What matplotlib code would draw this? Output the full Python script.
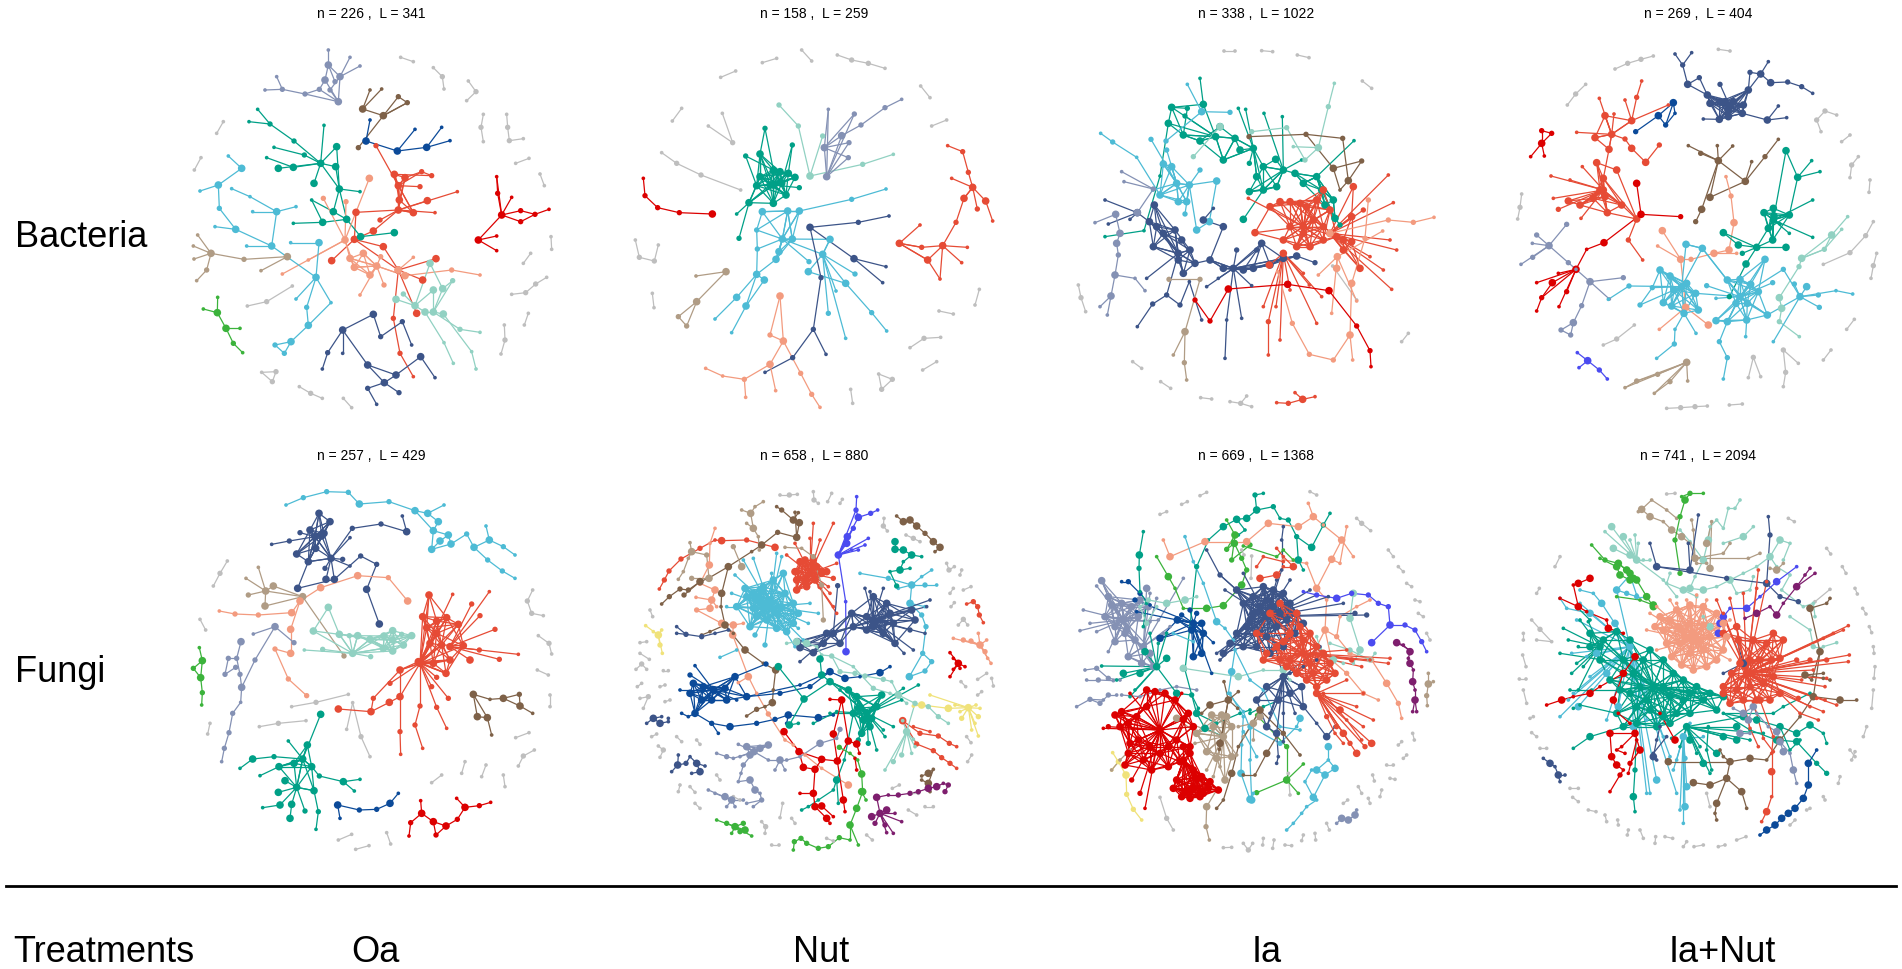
import matplotlib
matplotlib.use("Agg")
import matplotlib.pyplot as plt
from matplotlib.collections import LineCollection
from matplotlib.lines import Line2D

plt.rcParams["font.family"] = ["Liberation Sans", "DejaVu Sans"]

W, H = 1902, 969

palette = {
    "gy": "#BEBEBE", "lv": "#8491B4", "br": "#7E6148", "db": "#0B4A99",
    "ds": "#3C5488", "tl": "#00A087", "ro": "#E64B35", "sa": "#F39B7F",
    "mn": "#91D1C2", "rd": "#DC0000", "sk": "#4DBBD5", "tn": "#B09C85",
    "gr": "#3BB33B", "bb": "#4B4BF0", "pu": "#7E1E6E", "ye": "#F0E27A",
}
node_area = {1: 7, 2: 15, 3: 30}
MESH_REACH = 100

row_labels = ["Bacteria", "Fungi"]
treatments = ["Oa", "Nut", "Ia", "Ia+Nut"]
titles = [
    "n = 226 ,  L = 341", "n = 158 ,  L = 259", "n = 338 ,  L = 1022", "n = 269 ,  L = 404",
    "n = 257 ,  L = 429", "n = 658 ,  L = 880", "n = 669 ,  L = 1368", "n = 741 ,  L = 2094",
]

# node coordinates are layout positions (0..1230 panel units)
# group = (colour, mode, nodes): 's' star from first node, 'p' path,
# 'm' star plus links among nearby big (size 3) nodes; optional 3rd value = node size class

grey_b_oa = [
    [(692, 112), (730, 125)], [(790, 143), (817, 170), (822, 207)], [(895, 183), (918, 215), (890, 242)],
    [(940, 283), (933, 322), (940, 365)], [(1010, 283), (1013, 322), (1018, 362), (1060, 356)],
    [(1037, 430), (1077, 415)], [(1110, 462), (1123, 497)], [(1143, 650), (1145, 688)], [(1082, 700), (1060, 730)],
    [(1130, 772), (1097, 792), (1067, 818), (1025, 823)], [(1075, 880), (1063, 915)],
    [(1003, 915), (1005, 960), (993, 1002)], [(160, 305), (140, 340)], [(93, 413), (73, 450)],
    [(367, 798), (290, 845), (232, 858)], [(275, 1057), (318, 1055), (307, 1085), (275, 1057)],
    [(388, 1100), (422, 1120), (457, 1135)], [(520, 1135), (545, 1163)],
]
b_oa = [
    ("lv", "s", [(505, 245), (465, 180, 3), (480, 210, 2), (448, 208, 2), (510, 170, 3)]),
    ("lv", "s", [(475, 135), (475, 90), (465, 180, 3), (510, 170, 3), (495, 185, 2)]),
    ("lv", "s", [(510, 170), (540, 112), (570, 138), (480, 210, 2)]),
    ("lv", "p", [(285, 210), (337, 208, 2), (405, 222, 2), (448, 208, 2), (465, 180, 3)]),
    ("lv", "p", [(320, 170), (337, 208, 2)]),
    ("lv", "p", [(405, 222, 2), (505, 245, 3)]),
    ("br", "s", [(640, 287), (578, 267, 3), (685, 230, 2), (712, 248, 2), (565, 383, 2)]),
    ("br", "p", [(600, 210), (578, 267, 3), (635, 207)]),
    ("br", "p", [(685, 230, 2), (712, 248, 2), (640, 287, 3)]),
    ("db", "s", [(588, 363), (600, 300), (682, 393, 3)]),
    ("db", "s", [(682, 393), (735, 328), (770, 382, 3)]),
    ("db", "s", [(770, 382), (815, 322), (840, 362)]),
    ("ro", "m", [(685, 497), (618, 377, 2), (673, 463, 3), (705, 473, 3), (755, 455, 2), (688, 540, 3),
                 (730, 578, 3), (685, 570, 3), (750, 500, 2)]),
    ("ro", "s", [(685, 570), (558, 577, 3), (630, 600, 2), (610, 633, 3), (772, 542, 3), (795, 578), (862, 515),
                 (730, 578, 3)]),
    ("ro", "s", [(553, 658), (558, 577, 3), (610, 633, 3), (485, 722, 3), (640, 680, 3), (685, 750, 3)]),
    ("ro", "s", [(685, 750), (640, 680, 3), (758, 780, 3), (798, 716, 3), (740, 880, 3), (670, 895, 2)]),
    ("ro", "p", [(670, 895, 2), (690, 1000, 2), (730, 1070)]),
    ("ro", "p", [(673, 463, 3), (785, 467, 2), (755, 455, 2), (705, 473, 3)]),
    ("tl", "s", [(452, 430), (403, 405, 2), (372, 363, 2), (370, 442, 3), (325, 445, 3), (497, 440, 3),
                 (500, 380, 3), (432, 490, 3), (508, 507, 3), (462, 316)]),
    ("tl", "p", [(263, 268), (300, 312, 2), (372, 363, 2)]),
    ("tl", "p", [(237, 305), (300, 312, 2)]),
    ("tl", "s", [(508, 507), (500, 380, 3), (490, 575, 3), (530, 598, 3), (570, 515), (497, 440, 3)]),
    ("tl", "s", [(530, 598), (458, 607, 3), (572, 650, 3), (490, 575, 3)]),
    ("tl", "p", [(370, 610), (458, 607, 3), (425, 540), (490, 575, 3)]),
    ("tl", "p", [(572, 650, 3), (673, 638, 3)]),
    ("tl", "p", [(312, 382), (403, 405, 2)]),
    ("tl", "p", [(290, 413), (370, 442, 3)]),
    ("sa", "s", [(525, 660), (598, 475, 3), (460, 535, 2), (528, 545, 2), (540, 715, 3), (415, 720), (337, 762),
                 (553, 742, 3)]),
    ("sa", "m", [(620, 738), (540, 715, 3), (553, 742, 3), (580, 700, 3), (632, 710, 2), (600, 765, 3),
                 (642, 795, 2), (705, 767, 3), (570, 825)]),
    ("sa", "p", [(705, 767, 3), (845, 750, 2), (930, 765)]),
    ("sa", "p", [(730, 712), (685, 750, 3)]),
    ("mn", "s", [(735, 857), (678, 838, 3), (700, 822, 2), (765, 876, 3), (790, 810, 3), (780, 730, 3)]),
    ("mn", "s", [(790, 876), (765, 876, 3), (820, 882, 3), (818, 806, 3), (790, 810, 3), (848, 782, 2),
                 (870, 928, 2)]),
    ("mn", "p", [(780, 730, 3), (818, 806, 3), (848, 782, 2)]),
    ("mn", "p", [(870, 928, 2), (930, 937)]),
    ("mn", "p", [(765, 876, 3), (822, 968), (850, 1030)]),
    ("mn", "p", [(820, 882, 3), (905, 995), (918, 1047)]),
    ("sk", "p", [(175, 408), (215, 445, 3), (145, 495, 3), (148, 565, 2), (197, 628, 3), (305, 678, 3),
                 (438, 772, 3)]),
    ("sk", "p", [(90, 513), (145, 495, 3)]),
    ("sk", "s", [(320, 575), (305, 678, 3), (378, 560), (248, 575), (240, 530)]),
    ("sk", "p", [(185, 506), (240, 530)]),
    ("sk", "p", [(135, 620), (197, 628, 3)]),
    ("sk", "p", [(230, 678), (305, 678, 3)]),
    ("sk", "s", [(438, 772), (447, 668, 3), (378, 837), (410, 862, 2), (483, 848)]),
    ("sk", "p", [(362, 668), (447, 668, 3)]),
    ("sk", "p", [(410, 862, 2), (415, 916, 3), (363, 965, 3), (315, 975, 2), (343, 1000, 2), (363, 965, 3)]),
    ("sk", "p", [(415, 916, 3), (483, 848)]),
    ("tn", "s", [(123, 700), (83, 645), (70, 678), (72, 717), (110, 750, 2), (222, 718, 2)]),
    ("tn", "p", [(110, 750, 2), (80, 782)]),
    ("tn", "s", [(352, 710), (222, 718, 2), (273, 752)]),
    ("rd", "s", [(995, 585), (980, 470), (983, 520, 2), (1025, 532), (1052, 572, 2), (1052, 605, 2),
                 (925, 660, 3)]),
    ("rd", "p", [(983, 520, 2), (980, 470)]),
    ("rd", "p", [(1052, 572, 2), (1095, 583, 2), (1137, 568)]),
    ("rd", "p", [(1052, 605, 2), (1095, 583, 2)]),
    ("rd", "s", [(925, 660), (980, 648), (980, 692)]),
    ("gr", "p", [(100, 867), (142, 878, 3), (143, 832)]),
    ("gr", "p", [(142, 878, 3), (168, 925, 3), (190, 970, 2), (218, 998)]),
    ("gr", "p", [(168, 925, 3), (210, 925)]),
    ("ds", "s", [(518, 930), (473, 998, 2), (518, 1000), (610, 883, 3), (593, 1035, 3)]),
    ("ds", "p", [(473, 998, 2), (457, 1047)]),
    ("ds", "p", [(610, 883, 3), (632, 950, 2), (697, 905, 2), (725, 975)]),
    ("ds", "s", [(643, 1088), (593, 1035, 3), (678, 1065, 3), (687, 1118, 2), (593, 1105, 2)]),
    ("ds", "p", [(593, 1105, 2), (620, 1153)]),
    ("ds", "p", [(678, 1065, 3), (752, 1010, 3), (795, 1073)]),
    ("ds", "p", [(593, 1035, 3), (678, 1065, 3)]),
]

grey_b_nut = [
    [(487, 128), (530, 115)], [(362, 172), (407, 153)], [(605, 90), (635, 123)],
    [(712, 105), (755, 120), (805, 130), (855, 145)], [(962, 198), (990, 233)], [(995, 318), (1040, 300)],
    [(217, 303), (245, 265)], [(325, 318), (398, 368), (367, 280)],
    [(185, 398), (230, 430), (303, 465), (422, 510)], [(106, 660), (118, 712), (163, 723), (175, 675)],
    [(157, 820), (162, 863)], [(1138, 808), (1125, 855)], [(1017, 873), (1060, 882)],
    [(930, 983), (972, 955), (1022, 952)], [(968, 1050), (1010, 1025)],
    [(836, 1062), (877, 1078), (845, 1108), (836, 1062)], [(752, 1108), (758, 1150)],
]
b_nut = [
    ("rd", "p", [(130, 475), (135, 527, 2), (173, 563, 2), (238, 578, 2), (337, 582, 3)]),
    ("tl", "m", [(520, 495), (480, 470, 3), (470, 497, 3), (510, 495, 3), (545, 490, 3), (565, 460, 3),
                 (585, 472, 3), (598, 503, 2), (558, 525, 3), (520, 550, 3), (540, 455, 3), (520, 450, 3),
                 (447, 548, 3), (480, 402, 3)]),
    ("tl", "p", [(495, 325, 2), (480, 402, 3), (480, 470, 3)]),
    ("tl", "p", [(495, 325, 2), (520, 450, 3)]),
    ("tl", "p", [(437, 408, 2), (470, 497, 3)]),
    ("tl", "p", [(437, 408, 2), (520, 450, 3)]),
    ("tl", "p", [(577, 375, 2), (565, 460, 3)]),
    ("tl", "p", [(577, 375, 2), (545, 490, 3)]),
    ("tl", "p", [(447, 548, 3), (410, 582)]),
    ("tl", "p", [(447, 548, 3), (417, 655, 2)]),
    ("mn", "p", [(537, 255, 2), (595, 318, 2), (630, 468, 3)]),
    ("mn", "p", [(630, 468, 3), (668, 348, 2)]),
    ("mn", "p", [(630, 468, 3), (788, 433, 2), (880, 403)]),
    ("lv", "s", [(680, 470), (673, 383, 3), (725, 347, 3), (747, 368, 2), (745, 413, 2), (763, 282, 2), (685, 268)]),
    ("lv", "s", [(673, 383), (725, 347, 3), (685, 268), (763, 282, 2), (747, 368, 2), (745, 413, 2)]),
    ("lv", "p", [(725, 347, 3), (783, 315, 2), (855, 263, 2), (905, 238)]),
    ("sk", "m", [(547, 657), (487, 575, 3), (563, 573, 3), (598, 573, 3), (470, 630, 2), (472, 687, 2),
                 (537, 695, 3), (528, 718, 3), (577, 657, 3), (690, 658, 3), (668, 703, 3), (627, 725, 2)]),
    ("sk", "s", [(563, 573), (487, 575, 3), (598, 573, 3), (577, 657, 3), (470, 630, 2)]),
    ("sk", "p", [(598, 573, 3), (755, 538, 2), (858, 507)]),
    ("sk", "s", [(470, 763), (472, 687, 2), (493, 780, 3), (410, 832, 3), (438, 858, 3), (528, 718, 3)]),
    ("sk", "p", [(410, 832, 3), (345, 897)]),
    ("sk", "p", [(438, 858, 3), (395, 938)]),
    ("sk", "p", [(493, 780, 3), (438, 858, 3)]),
    ("sk", "s", [(668, 703), (737, 790, 3), (765, 762, 2), (690, 658, 3), (625, 755, 3), (708, 813),
                 (685, 880, 2), (737, 955)]),
    ("sk", "p", [(625, 755, 3), (737, 790, 3), (815, 878, 2), (860, 933)]),
    ("sk", "p", [(487, 575, 3), (470, 630, 2), (472, 687, 2)]),
    ("ds", "s", [(630, 622), (775, 607, 2), (762, 716, 3), (663, 773, 2)]),
    ("ds", "p", [(775, 607, 2), (867, 588)]),
    ("ds", "s", [(762, 716), (858, 740), (848, 788)]),
    ("ds", "p", [(663, 773, 2), (640, 928, 2), (578, 1013, 2), (495, 1057)]),
    ("ds", "p", [(640, 928, 2), (678, 1003)]),
    ("ro", "p", [(1043, 377), (1088, 395, 2), (1105, 457, 2), (1118, 502, 3), (1092, 535, 3), (1068, 607, 2),
                 (1028, 677, 3), (983, 720, 3), (898, 670, 3), (965, 682, 2), (1028, 677, 3)]),
    ("ro", "s", [(1118, 502), (1055, 475), (1157, 543, 3), (1132, 567, 2), (1092, 535, 3)]),
    ("ro", "p", [(1157, 543, 3), (1178, 603)]),
    ("ro", "s", [(898, 670), (960, 615), (983, 720, 3), (965, 682, 2)]),
    ("ro", "s", [(1028, 677), (1102, 682), (1085, 728), (1020, 777)]),
    ("ro", "p", [(983, 720, 3), (1020, 777)]),
    ("tn", "p", [(288, 768), (378, 755, 3), (290, 845, 3), (235, 890, 2), (260, 918, 2), (290, 845, 3)]),
    ("sa", "p", [(540, 828, 3), (510, 945, 2), (550, 963, 3), (540, 828, 3)]),
    ("sa", "p", [(550, 963, 3), (510, 1033, 3), (433, 1078, 2), (368, 1068), (317, 1045)]),
    ("sa", "p", [(433, 1078, 2), (437, 1132)]),
    ("sa", "p", [(510, 1033, 3), (527, 1112)]),
    ("sa", "p", [(550, 963, 3), (602, 1060, 2), (635, 1123, 2), (660, 1162)]),
]

grey_b_ia = [
    [(522, 93), (555, 93)], [(635, 92), (668, 95)], [(742, 105), (777, 113)], [(937, 183), (965, 205)],
    [(1055, 965), (1075, 940)], [(85, 795), (93, 833), (107, 875)], [(248, 1025), (275, 1045)],
    [(332, 1085), (362, 1105)], [(452, 1133), (485, 1137)], [(540, 1145), (572, 1150), (590, 1128)],
    [(572, 1150), (605, 1160)], [(848, 738), (920, 840)],
]
b_ia = [
    ("ro", "p", [(680, 1148), (715, 1150, 2), (758, 1138, 3), (795, 1130)]),
    ("ro", "p", [(735, 1118), (758, 1138, 3)]),
    ("tl", "p", [(365, 262, 3), (412, 265, 2), (400, 345, 3), (450, 363, 3), (510, 320, 3), (555, 355, 3),
                 (570, 390, 3), (610, 385, 3), (640, 440, 3), (677, 418, 3), (700, 450, 3), (735, 460, 3),
                 (760, 490, 3), (800, 470, 3), (815, 510, 3), (850, 540, 3), (855, 595, 3), (870, 615, 2)]),
    ("tl", "m", [(497, 350, 3), (365, 262, 3), (405, 288, 2), (355, 310, 3), (460, 253, 3), (450, 363, 3),
                 (520, 420, 3), (555, 355, 3), (400, 345, 3)]),
    ("tl", "m", [(610, 385, 3), (520, 420, 3), (598, 430, 2), (620, 470, 3), (640, 510, 3), (555, 355, 3),
                 (565, 265), (587, 268)]),
    ("tl", "m", [(700, 450, 3), (642, 280), (697, 290), (680, 500, 3), (640, 510, 3), (598, 515, 3),
                 (640, 440, 3), (755, 420)]),
    ("tl", "m", [(800, 470, 3), (912, 362), (850, 540, 3), (825, 555, 3), (760, 490, 3), (735, 460, 3),
                 (815, 510, 3), (855, 595, 3)]),
    ("tl", "s", [(640, 510, 3), (580, 598, 3), (598, 515, 3), (680, 500, 3)]),
    ("tl", "p", [(460, 253, 3), (450, 175)]),
    ("tl", "p", [(165, 650), (282, 632), (330, 468), (355, 310, 3)]),
    ("sk", "m", [(380, 490, 3), (340, 432, 3), (365, 440, 3), (330, 525, 3), (385, 545, 3), (410, 545, 3),
                 (418, 495, 3), (350, 390, 2), (303, 358, 2), (308, 510)]),
    ("sk", "s", [(418, 495, 3), (450, 450, 2), (500, 483, 3), (410, 545, 3), (405, 582, 2), (440, 630, 3)]),
    ("sk", "p", [(152, 340), (188, 366, 2), (260, 412), (330, 525, 3)]),
    ("sk", "p", [(412, 193), (455, 275, 3), (540, 277, 2)]),
    ("sk", "p", [(455, 275, 3), (348, 363, 2)]),
    ("sk", "p", [(440, 630, 3), (478, 605, 3), (500, 483, 3)]),
    ("ds", "p", [(262, 578, 3), (298, 605, 3), (340, 640, 3), (395, 660, 3), (435, 730, 3), (480, 720, 3),
                 (520, 745, 3), (550, 745, 3), (580, 750, 3), (610, 745, 3), (660, 735, 3), (700, 715, 3),
                 (740, 708, 3), (795, 728, 2)]),
    ("ds", "m", [(385, 700, 3), (313, 555, 3), (320, 620, 3), (310, 680, 3), (375, 630, 3), (420, 690, 3),
                 (385, 720, 3), (400, 760, 3), (435, 730, 3), (340, 640, 3), (298, 605, 3), (290, 775),
                 (350, 825, 2)]),
    ("ds", "m", [(550, 745, 3), (560, 690, 2), (620, 690, 2), (635, 670, 3), (505, 775), (470, 800), (530, 900),
                 (575, 895), (605, 797), (480, 720, 3), (520, 745, 3), (580, 750, 3), (610, 745, 3),
                 (660, 735, 3), (700, 715, 3), (740, 708, 3)]),
    ("ds", "p", [(530, 900), (525, 1015)]),
    ("ds", "p", [(460, 600, 3), (520, 620, 3), (480, 720, 3)]),
    ("ds", "p", [(490, 565), (460, 600, 3)]),
    ("ds", "p", [(165, 540), (262, 578, 3), (240, 598)]),
    ("ds", "p", [(175, 612), (262, 578, 3)]),
    ("ds", "p", [(308, 852, 2), (350, 825, 2), (390, 855, 2), (418, 785), (455, 900)]),
    ("ds", "p", [(262, 920), (308, 852, 2)]),
    ("lv", "p", [(135, 608), (197, 583, 3), (210, 640, 3), (200, 670, 3), (205, 705, 2), (195, 765, 3),
                 (183, 828, 3), (172, 885)]),
    ("lv", "p", [(215, 455), (310, 507, 2), (262, 578, 3)]),
    ("lv", "p", [(222, 485), (310, 507, 2)]),
    ("lv", "p", [(195, 765, 3), (255, 775), (285, 812)]),
    ("lv", "p", [(183, 828, 3), (150, 860)]),
    ("ro", "m", [(760, 620, 3), (615, 638, 3), (660, 560, 3), (690, 545, 3), (720, 545, 3), (750, 550, 3),
                 (770, 560, 3), (800, 540, 3), (820, 510, 3), (840, 570, 3), (790, 600, 3), (820, 620, 3),
                 (760, 640, 3), (720, 620, 3), (700, 660, 3), (740, 680, 3), (780, 680, 3), (820, 660, 3),
                 (860, 650, 3), (595, 535)]),
    ("ro", "m", [(840, 640, 3), (880, 660, 3), (905, 665, 3), (880, 690, 3), (905, 590, 3), (910, 500, 3),
                 (940, 570, 2), (1015, 465), (1030, 548), (1040, 690), (1020, 660), (1000, 750), (1025, 808),
                 (960, 710), (930, 745, 3)]),
    ("ro", "s", [(700, 700, 3), (658, 735, 3), (655, 905, 2), (640, 860), (678, 860), (690, 960), (720, 810),
                 (760, 760), (800, 910), (778, 795), (815, 830)]),
    ("ro", "p", [(655, 905, 2), (655, 1005)]),
    ("sa", "p", [(840, 640, 3), (1015, 600, 2), (1090, 607, 2), (1152, 592)]),
    ("sa", "p", [(955, 540, 2), (945, 655, 2), (905, 790, 3), (900, 945, 3), (850, 1020, 2), (778, 1003, 2),
                 (727, 910, 2), (683, 755)]),
    ("sa", "p", [(900, 945, 3), (908, 1020)]),
    ("sa", "s", [(862, 710, 3), (860, 745, 3), (805, 765), (845, 880), (998, 633), (920, 843)]),
    ("rd", "p", [(435, 840, 2), (480, 903, 2), (535, 807, 3), (713, 793, 3), (837, 812, 3), (920, 918, 2),
                 (960, 992, 2), (963, 1040)]),
    ("mn", "p", [(605, 335, 2), (710, 323, 2), (765, 420, 2), (805, 383, 3), (835, 260, 2), (853, 190)]),
    ("mn", "p", [(730, 380), (805, 383, 3)]),
    ("mn", "p", [(430, 410, 2), (510, 320, 3)]),
    ("br", "p", [(597, 350, 2), (768, 343, 2), (878, 355, 2), (895, 482, 3), (870, 510), (850, 445, 3),
                 (935, 423, 2), (895, 482, 3)]),
    ("br", "p", [(768, 343, 2), (850, 445, 3)]),
    ("tn", "p", [(357, 778, 2), (450, 778, 2), (405, 935, 3), (403, 1028, 2), (410, 1080)]),
    ("tn", "p", [(405, 935, 3), (370, 1005)]),
]

grey_b_ian = [
    [(375, 147), (413, 130), (453, 118), (490, 108)], [(685, 88), (720, 93)], [(232, 255), (257, 222), (287, 193)],
    [(993, 335), (980, 300), (1005, 273), (1040, 285)], [(1055, 365), (1080, 345)],
    [(1080, 473), (1085, 435), (1105, 410)], [(1140, 480), (1137, 517)], [(95, 522), (90, 562), (83, 597)],
    [(1000, 733), (1080, 698), (1127, 647), (1150, 605)], [(1160, 700), (1150, 737), (1143, 775)],
    [(1070, 928), (1093, 898)], [(1000, 1020), (1023, 990)], [(340, 975), (380, 957), (433, 915)],
    [(925, 1030), (880, 990), (887, 1057), (880, 1100)], [(775, 1073), (790, 1012), (812, 1070)],
    [(530, 1165), (572, 1163), (615, 1160), (652, 1158)], [(718, 1155), (757, 1152)],
]
b_ian = [
    ("ds", "p", [(555, 102), (578, 135, 2), (605, 98)]),
    ("ds", "p", [(578, 135, 2), (593, 193, 3), (652, 225, 3), (660, 250, 3)]),
    ("ds", "p", [(593, 193, 3), (628, 173, 2), (652, 225, 3)]),
    ("ds", "m", [(720, 260, 3), (660, 250, 3), (690, 245, 3), (705, 245, 3), (730, 245, 3), (760, 255, 3),
                 (715, 270, 3), (688, 298, 3), (715, 290, 3), (757, 280, 3), (690, 193, 2), (652, 225, 3),
                 (775, 210, 3)]),
    ("ds", "p", [(775, 210, 3), (780, 157, 2), (812, 162, 3), (835, 125)]),
    ("ds", "p", [(775, 210, 3), (812, 162, 3), (842, 188, 3), (893, 186, 2), (935, 200, 2), (968, 220)]),
    ("ds", "p", [(757, 280, 3), (832, 300, 3), (865, 258)]),
    ("ds", "p", [(832, 300, 3), (890, 293)]),
    ("ds", "p", [(640, 297), (688, 298, 3)]),
    ("db", "p", [(437, 335, 2), (505, 287, 3), (527, 315, 2), (555, 280), (550, 248, 3), (505, 287, 3)]),
    ("db", "p", [(550, 248, 3), (527, 315, 2)]),
    ("ro", "m", [(340, 510, 3), (183, 468), (240, 480), (190, 535), (205, 568, 2), (235, 543, 3), (270, 555, 3),
                 (310, 535, 3), (330, 510, 3), (345, 530, 3), (352, 578, 3), (395, 555, 3), (273, 595),
                 (320, 428, 3), (277, 440), (340, 475, 3)]),
    ("ro", "s", [(440, 597, 3), (395, 555, 3), (352, 578, 3), (415, 660, 2), (340, 475, 3), (380, 450, 3),
                 (453, 583, 2)]),
    ("ro", "p", [(415, 660, 2), (458, 720)]),
    ("ro", "m", [(365, 343, 3), (345, 287, 3), (315, 353, 3), (357, 388, 3), (405, 357, 2), (328, 235),
                 (372, 282), (260, 337), (425, 302, 3)]),
    ("ro", "p", [(425, 302, 3), (440, 232, 2), (455, 183)]),
    ("ro", "p", [(405, 240), (425, 302, 3), (535, 255)]),
    ("ro", "p", [(405, 357, 2), (425, 385, 3), (467, 427, 3), (508, 375, 2)]),
    ("ro", "p", [(357, 388, 3), (340, 475, 3)]),
    ("ro", "p", [(320, 428, 3), (380, 450, 3)]),
    ("rd", "p", [(122, 410), (155, 370, 3), (185, 340, 2), (155, 332, 2), (155, 370, 3), (163, 408)]),
    ("rd", "s", [(453, 583, 3), (440, 490, 3), (572, 590, 2), (342, 668, 3)]),
    ("rd", "p", [(342, 668, 3), (290, 688), (258, 748, 3)]),
    ("rd", "s", [(258, 748, 3), (187, 788, 3), (205, 760), (140, 788), (155, 833, 2), (230, 815, 2), (207, 860)]),
    ("rd", "p", [(187, 788, 3), (155, 833, 2), (140, 873)]),
    ("lv", "s", [(177, 677, 3), (127, 670), (140, 645, 2), (230, 613, 2), (128, 712, 2), (93, 733), (235, 728, 2)]),
    ("lv", "p", [(235, 728, 2), (258, 748), (300, 785, 3), (400, 773, 2)]),
    ("lv", "p", [(300, 785, 3), (358, 837)]),
    ("lv", "p", [(300, 785, 3), (275, 857, 2), (250, 908, 3), (213, 930, 2), (242, 945, 2), (250, 908, 3)]),
    ("bb", "p", [(262, 998), (293, 1022, 3), (328, 1050, 2), (352, 1077)]),
    ("bb", "p", [(293, 1022, 3), (267, 1043)]),
    ("tn", "s", [(590, 1027, 3), (405, 1103), (440, 1083, 2), (503, 1063, 2), (540, 1085, 2), (593, 1083),
                 (493, 1120)]),
    ("tn", "p", [(405, 1103), (440, 1083, 2), (503, 1063, 2)]),
    ("tn", "p", [(540, 1085, 2), (493, 1120)]),
    ("br", "s", [(685, 422, 3), (595, 377), (632, 400, 2), (682, 377), (728, 378), (660, 532, 3), (635, 568, 3),
                 (766, 484, 3)]),
    ("br", "p", [(635, 568, 3), (617, 605, 2)]),
    ("br", "p", [(660, 532, 3), (766, 484, 3), (825, 410, 2), (865, 358)]),
    ("br", "p", [(766, 484, 3), (785, 425)]),
    ("sa", "p", [(708, 470), (723, 528, 2), (732, 608, 3), (717, 690, 3), (672, 700, 3), (603, 718, 2),
                 (572, 718, 3), (517, 632, 3)]),
    ("sa", "p", [(572, 718, 3), (503, 678)]),
    ("sa", "p", [(572, 718, 3), (587, 862, 3), (655, 915, 3)]),
    ("sa", "p", [(587, 862, 3), (508, 928)]),
    ("sa", "p", [(672, 700, 3), (740, 700)]),
    ("tl", "p", [(888, 392, 3), (923, 472, 3), (898, 585, 3)]),
    ("tl", "p", [(965, 422), (923, 472, 3), (990, 455)]),
    ("tl", "m", [(850, 600, 3), (898, 585, 3), (852, 588, 3), (822, 578, 3), (850, 565, 3), (835, 625, 3),
                 (870, 612), (848, 660, 3), (968, 540), (968, 652), (898, 640), (888, 392, 2)]),
    ("tl", "s", [(800, 682, 3), (848, 660, 3), (888, 682, 3), (745, 675, 3), (700, 638, 3), (768, 732, 3),
                 (757, 700, 2), (835, 625, 3)]),
    ("tl", "p", [(745, 675, 3), (700, 638, 3)]),
    ("tl", "p", [(768, 732, 3), (718, 830, 2)]),
    ("mn", "p", [(1073, 590), (1025, 645, 3), (1003, 688, 2), (935, 715, 3), (927, 740, 2), (868, 833, 3),
                 (875, 865, 3), (868, 905, 2), (928, 950)]),
    ("mn", "p", [(1055, 628), (1003, 688, 2), (935, 715, 3)]),
    ("mn", "p", [(1025, 645, 3), (935, 715, 3)]),
    ("sk", "m", [(750, 830, 3), (712, 780, 3), (750, 778, 3), (782, 793, 3), (805, 815, 3), (848, 788, 2),
                 (825, 718, 3), (738, 850, 3), (772, 850, 3), (770, 900, 3), (712, 905, 3), (678, 902, 3),
                 (832, 885, 3), (650, 797, 2), (678, 835), (637, 685, 3), (617, 820, 3), (880, 748, 2)]),
    ("sk", "m", [(575, 800, 3), (588, 673, 3), (510, 750, 3), (540, 768, 3), (590, 790, 3), (552, 810, 3),
                 (487, 803, 2), (417, 798, 2), (520, 848, 3), (545, 858, 3), (582, 880, 3), (625, 870, 3),
                 (617, 820, 3), (450, 855, 2), (637, 685, 3)]),
    ("sk", "s", [(930, 830, 3), (950, 800, 3), (985, 825, 2), (988, 862, 2), (913, 792, 2), (880, 748, 2),
                 (832, 885, 3), (850, 965), (1038, 812)]),
    ("sk", "p", [(1038, 812), (1088, 822)]),
    ("sk", "p", [(417, 798, 2), (355, 838)]),
    ("sk", "p", [(582, 880, 3), (555, 928), (553, 972, 2), (500, 1015)]),
    ("sk", "p", [(582, 880, 3), (618, 940)]),
    ("sk", "p", [(712, 905, 3), (688, 965, 2), (712, 1013, 2), (700, 1077)]),
    ("sk", "p", [(770, 900, 3), (767, 950)]),
    ("sk", "p", [(588, 673, 3), (637, 685, 3), (712, 780, 3)]),
    ("sk", "p", [(510, 750, 3), (487, 803, 2), (450, 855, 2)]),
]

grey_f_oa = [
    [(130, 378), (150, 340), (172, 303)], [(90, 478), (107, 510)],
    [(1088, 390), (1072, 423), (1085, 460), (1120, 467)], [(1105, 527), (1137, 550), (1145, 582)],
    [(1102, 630), (1135, 645)], [(1140, 705), (1140, 740)], [(113, 822), (120, 790)],
    [(365, 740), (438, 727), (535, 703)], [(268, 800), (325, 790), (408, 782)], [(548, 728), (530, 808)],
    [(548, 728), (573, 830), (600, 890)], [(1037, 833), (1077, 818)], [(1045, 918), (1060, 888), (1093, 870)],
    [(785, 968), (815, 945)], [(875, 940), (885, 905)], [(935, 950), (948, 915)], [(1005, 980), (1000, 945)],
    [(505, 1140), (545, 1123)], [(557, 1168), (597, 1157)], [(650, 1118), (662, 1152)],
]
f_oa = [
    ("sk", "p", [(348, 135), (400, 113, 2), (470, 95, 2), (535, 97, 2), (568, 132, 3), (657, 125, 2),
                 (735, 152, 3), (773, 160, 3), (805, 185, 3), (790, 212, 3), (785, 268, 3), (810, 243, 3),
                 (835, 225, 3), (843, 252, 3), (890, 222, 2), (912, 262, 3), (958, 240, 3), (1000, 260, 2),
                 (1035, 285)]),
    ("sk", "p", [(958, 240, 3), (948, 198)]),
    ("sk", "p", [(773, 160, 3), (822, 135)]),
    ("sk", "p", [(912, 262, 3), (953, 300, 2), (997, 333, 2), (1035, 355)]),
    ("sk", "p", [(785, 268, 3), (843, 252, 3)]),
    ("sk", "p", [(790, 212, 3), (835, 225, 3)]),
    ("sk", "p", [(735, 152, 3), (790, 212, 3)]),
    ("ds", "m", [(435, 230, 3), (447, 160, 3), (480, 185, 3), (420, 210, 3), (390, 218, 2), (455, 228, 3),
                 (462, 220, 3), (437, 265, 3), (358, 243, 2), (380, 282, 3), (415, 305, 3), (483, 295, 3)]),
    ("ds", "p", [(305, 253), (358, 243, 2)]),
    ("ds", "s", [(483, 295, 3), (518, 298, 2), (540, 318), (465, 325, 2), (468, 358, 3), (493, 358, 3),
                 (415, 305, 3), (547, 205, 2), (540, 233)]),
    ("ds", "p", [(547, 205, 2), (633, 192, 2), (710, 215, 3), (697, 168)]),
    ("ds", "p", [(493, 358, 3), (572, 288, 2), (620, 313, 2), (590, 388, 3), (628, 492, 3)]),
    ("ds", "p", [(383, 385, 3), (493, 358, 3)]),
    ("ds", "p", [(415, 305, 3), (383, 385, 3)]),
    ("tn", "s", [(287, 393, 3), (228, 355), (235, 405, 2), (265, 322), (310, 378, 3), (285, 438, 3),
                 (398, 410, 3)]),
    ("tn", "p", [(310, 378, 3), (398, 410, 3), (522, 588, 2)]),
    ("tn", "p", [(285, 438, 3), (398, 410, 3)]),
    ("sa", "p", [(148, 453), (195, 462, 2), (265, 465, 2), (365, 458, 3), (390, 423, 3), (452, 383, 3),
                 (563, 347, 3), (655, 353, 2), (713, 423, 3)]),
    ("sa", "p", [(390, 423, 3), (362, 508, 3), (362, 580, 3), (315, 567, 2), (355, 657, 2), (410, 707, 2)]),
    ("lv", "p", [(250, 522), (315, 500, 3), (372, 548, 2)]),
    ("lv", "p", [(315, 500, 3), (255, 600, 2), (215, 682, 3), (210, 643, 2), (200, 595, 2), (175, 595, 2),
                 (165, 643, 2), (197, 622, 2)]),
    ("lv", "p", [(213, 545, 3), (200, 595, 2)]),
    ("lv", "p", [(215, 682, 3), (212, 727), (188, 760, 2), (177, 818, 2), (163, 865, 2), (155, 905)]),
    ("gr", "p", [(88, 563), (97, 602, 3), (70, 625, 2), (92, 653, 3), (97, 698, 2), (95, 735)]),
    ("gr", "p", [(97, 602, 3), (92, 653, 3)]),
    ("mn", "m", [(548, 580, 3), (430, 513, 3), (458, 568, 2), (508, 523, 3), (538, 527, 2), (563, 527, 3),
                 (600, 538, 3), (602, 590, 2), (642, 528, 3), (640, 565, 3), (668, 573, 3), (403, 570)]),
    ("mn", "p", [(430, 513, 3), (475, 442, 3), (508, 523, 3)]),
    ("mn", "m", [(668, 540, 3), (642, 528, 3), (668, 512, 3), (640, 565, 3), (668, 573, 3), (700, 555, 3),
                 (695, 523, 2), (725, 527, 3), (600, 538, 3)]),
    ("ro", "m", [(750, 610, 3), (777, 405, 3), (758, 470, 3), (770, 503, 3), (800, 483, 3), (800, 520, 3),
                 (780, 550, 3), (815, 555, 3), (745, 605, 3), (790, 610, 3), (840, 600, 3), (828, 640, 3),
                 (800, 652, 2), (690, 630, 3), (660, 670, 2), (690, 710, 3), (785, 680, 2), (835, 715, 2),
                 (750, 738, 2), (800, 742, 2), (880, 557, 3), (865, 493, 3), (830, 473, 3), (848, 403)]),
    ("ro", "s", [(840, 560, 3), (905, 432, 2), (930, 467, 2), (975, 508, 2), (928, 570, 2), (900, 600, 3),
                 (988, 598, 2), (1045, 583), (958, 395)]),
    ("ro", "p", [(690, 630, 3), (610, 715, 2), (603, 755, 3), (505, 747, 3)]),
    ("ro", "p", [(603, 755, 3), (658, 727, 3), (690, 710, 3)]),
    ("ro", "p", [(750, 738, 2), (735, 795, 2), (758, 865)]),
    ("ro", "p", [(690, 710, 3), (690, 815, 2), (692, 883)]),
    ("ro", "p", [(800, 742, 2), (830, 805)]),
    ("br", "p", [(910, 703, 3), (960, 718), (1000, 715, 3), (1048, 703, 2), (1050, 738, 3), (1088, 760)]),
    ("br", "p", [(910, 703, 3), (922, 770, 3), (952, 773, 3), (965, 825)]),
    ("br", "p", [(910, 703, 3), (952, 773, 3)]),
    ("br", "p", [(1000, 715, 3), (1050, 738, 3)]),
    ("tl", "m", [(398, 897, 3), (452, 763, 3), (412, 855, 3), (355, 843), (425, 920, 3), (372, 910, 3),
                 (312, 890, 2), (327, 920, 3), (380, 982, 3), (432, 992, 3)]),
    ("tl", "p", [(425, 920, 3), (448, 948, 2), (520, 965, 3), (570, 958)]),
    ("tl", "p", [(520, 965, 3), (553, 993)]),
    ("tl", "p", [(210, 925), (248, 897, 3), (312, 890, 2)]),
    ("tl", "p", [(270, 947), (327, 920, 3)]),
    ("tl", "s", [(380, 982, 3), (345, 962, 3), (325, 997, 3), (330, 1035, 3), (365, 1033, 3), (405, 1053, 2),
                 (432, 992, 3)]),
    ("tl", "p", [(330, 1035, 3), (278, 1043)]),
    ("tl", "p", [(365, 1033, 3), (360, 1075, 3)]),
    ("tl", "p", [(432, 992, 3), (445, 1055, 2), (438, 1108)]),
    ("db", "p", [(510, 1075), (503, 1035, 3), (568, 1050, 2), (620, 1048, 2), (660, 1030, 3), (685, 1000)]),
    ("rd", "p", [(717, 1128), (722, 1088, 2), (755, 1060, 3), (752, 1022)]),
    ("rd", "p", [(755, 1060, 3), (790, 1085, 3), (798, 1125, 2), (828, 1098, 3), (862, 1078, 2), (885, 1042, 3),
                 (860, 1015)]),
    ("rd", "p", [(790, 1085, 3), (828, 1098, 3)]),
    ("rd", "p", [(885, 1042, 3), (928, 1037, 2), (962, 1027)]),
]

grey_f_nut = [
    [(540, 105), (568, 105), (592, 103)], [(640, 95), (642, 120), (655, 130)], [(683, 125), (695, 100)],
    [(720, 130), (727, 118)], [(852, 175), (850, 198), (862, 213)], [(918, 225), (940, 235), (960, 245)],
    [(1040, 310), (1047, 330), (1063, 320)], [(1085, 330), (1080, 345)], [(1060, 385), (1050, 400)],
    [(1090, 390), (1113, 380)], [(1053, 440), (1063, 428)], [(1075, 495), (1090, 478), (1103, 495)],
    [(1160, 640), (1133, 658)], [(1083, 665), (1097, 680)], [(1175, 655), (1180, 678)],
    [(1145, 695), (1133, 705)], [(1100, 830), (1113, 848)], [(1103, 905), (1115, 885)],
    [(877, 985), (898, 975)], [(935, 1000), (955, 1000)], [(925, 1050), (950, 1065)], [(975, 1040), (1000, 1040)],
    [(800, 1125), (817, 1140)], [(680, 1135), (700, 1143)], [(515, 1155), (537, 1155)], [(540, 1073), (548, 1030)],
    [(485, 1085), (497, 1100), (495, 1120)], [(575, 1075), (585, 1090)], [(150, 450), (158, 470)],
    [(140, 545), (120, 548)], [(120, 580), (148, 598)], [(108, 628), (125, 612), (140, 628)],
    [(112, 680), (125, 670)], [(120, 715), (145, 710), (130, 745)], [(180, 680), (195, 675)],
    [(190, 632), (205, 632)], [(195, 725), (210, 720)], [(155, 830), (170, 822)],
    [(175, 858), (190, 870), (180, 892)], [(230, 830), (245, 845)], [(290, 840), (300, 853)],
    [(240, 975), (235, 995)], [(270, 980), (285, 997)], [(285, 1030), (300, 1045)], [(350, 945), (360, 960)],
    [(400, 1010), (420, 1020)],
]
f_nut = [
    ("sk", "m", [(510, 440, 3), (410, 440, 3), (435, 385, 3), (460, 400, 3), (490, 380, 3), (520, 360, 3),
                 (550, 340, 3), (555, 400, 3), (580, 430, 3), (595, 460, 3), (580, 490, 3), (560, 515, 3),
                 (530, 505, 3), (500, 480, 3), (470, 470, 3), (450, 500, 3), (465, 525, 2), (495, 555, 2),
                 (440, 410, 3), (475, 420, 3), (510, 420, 3), (545, 440, 3), (530, 460, 3), (490, 445, 3),
                 (460, 445, 3), (380, 440), (395, 400), (405, 345), (430, 300), (460, 295), (530, 280),
                 (545, 290), (515, 340), (625, 490), (655, 460), (630, 430), (610, 540), (595, 505), (585, 560),
                 (480, 390, 3)]),
    ("sk", "p", [(780, 340), (865, 355, 2), (935, 375, 3), (965, 350), (995, 330)]),
    ("sk", "p", [(935, 375, 3), (975, 375, 2), (1010, 375)]),
    ("sk", "p", [(935, 375, 3), (930, 430, 3), (965, 465, 2), (978, 500, 2), (968, 580, 2), (995, 605, 2),
                 (975, 633, 2), (928, 650, 3), (968, 580, 2)]),
    ("sk", "p", [(935, 375, 3), (895, 385)]),
    ("sk", "p", [(410, 570), (360, 592)]),
    ("sk", "p", [(930, 430, 3), (975, 440)]),
    ("ro", "m", [(630, 340, 3), (600, 305, 3), (615, 300, 3), (640, 300, 3), (585, 335, 3), (590, 360, 3),
                 (615, 365, 3), (645, 360, 3), (665, 340, 3), (680, 335, 3), (650, 320, 3), (590, 390, 3),
                 (620, 380, 3), (660, 380, 2), (700, 355, 2), (710, 310), (630, 235), (660, 240), (700, 190),
                 (640, 190), (685, 380), (690, 400), (700, 440), (710, 460), (560, 285), (585, 250)]),
    ("ro", "p", [(178, 387), (193, 360, 2), (207, 333, 2), (243, 297, 2), (300, 265, 2), (345, 240),
                 (365, 242, 3), (440, 240, 2), (525, 262, 3)]),
    ("ro", "p", [(1100, 432), (1120, 425, 2), (1133, 440, 2), (1138, 465, 2), (1150, 488)]),
    ("ro", "p", [(908, 782, 3), (960, 820, 2), (1015, 828, 2), (1048, 850, 2), (1070, 860)]),
    ("ro", "p", [(908, 782, 3), (950, 852, 2), (1000, 872, 2), (1025, 893, 2), (1050, 910, 2), (1070, 925)]),
    ("ro", "p", [(940, 800), (990, 815)]),
    ("sa", "s", [(1140, 555, 3), (1060, 535), (1090, 540, 2), (1113, 543, 2), (1135, 520), (1160, 540),
                 (1155, 575, 2), (1163, 595), (1173, 610)]),
    ("sa", "p", [(345, 205), (330, 250), (328, 315, 3), (300, 370, 2), (345, 390, 3), (335, 420, 3),
                 (330, 445, 3), (290, 450, 2), (365, 490, 3), (400, 495, 3), (398, 525, 3), (445, 650, 3),
                 (470, 700), (505, 762, 2), (555, 840), (580, 855), (615, 885), (665, 925), (745, 975, 3)]),
    ("sa", "p", [(288, 412), (335, 420, 3), (350, 440)]),
    ("sa", "p", [(400, 495, 3), (430, 490)]),
    ("sa", "p", [(445, 650, 3), (415, 668)]),
    ("br", "p", [(595, 158), (580, 180, 3), (598, 188, 3), (590, 232, 3), (585, 157)]),
    ("br", "p", [(530, 140), (545, 150, 2), (580, 180, 3)]),
    ("br", "p", [(590, 232, 3), (533, 217, 2), (485, 255, 3), (455, 275), (385, 320, 3), (365, 400, 3),
                 (363, 440), (375, 495, 3), (400, 520)]),
    ("br", "p", [(385, 320, 3), (325, 355, 2), (300, 365, 3), (265, 390, 2), (240, 387, 2), (208, 410, 2),
                 (185, 432)]),
    ("br", "p", [(300, 365, 3), (252, 405, 2)]),
    ("br", "p", [(375, 495, 3), (330, 515), (305, 525)]),
    ("br", "p", [(375, 495, 3), (435, 570, 3), (490, 610), (527, 630, 3), (520, 690), (517, 728, 3), (495, 740),
                 (470, 748, 2), (440, 768)]),
    ("br", "p", [(890, 168), (910, 185, 3), (930, 180, 3), (950, 198, 3), (975, 220, 2), (1000, 245, 3),
                 (1020, 262, 3), (1005, 275)]),
    ("br", "p", [(965, 948), (985, 940, 3), (1000, 928), (985, 970, 3), (965, 960)]),
    ("br", "p", [(985, 970, 3), (990, 995)]),
    ("tn", "p", [(425, 150), (452, 160, 3), (465, 140), (490, 125)]),
    ("tn", "p", [(452, 160, 3), (460, 205, 3), (475, 230), (478, 270)]),
    ("tn", "p", [(460, 205, 3), (440, 190)]),
    ("tn", "p", [(270, 248), (275, 275, 3), (265, 295), (250, 335), (235, 358)]),
    ("tn", "p", [(275, 275, 3), (320, 285, 2), (327, 355, 3), (275, 355, 2)]),
    ("tn", "p", [(555, 262), (605, 265), (640, 290, 2), (665, 375, 2), (670, 480, 2)]),
    ("tn", "p", [(400, 260, 2), (425, 320, 3)]),
    ("bb", "s", [(715, 285, 3), (768, 150, 2), (775, 172, 3), (760, 205, 2), (742, 230, 3), (740, 250, 3),
                 (755, 270), (775, 270), (795, 255), (805, 235)]),
    ("bb", "p", [(770, 110), (768, 150, 2), (775, 172, 3), (812, 160, 2), (833, 150)]),
    ("bb", "p", [(715, 285, 3), (737, 425), (738, 575, 3)]),
    ("tl", "p", [(885, 245, 3), (885, 268, 3), (910, 270, 3), (935, 285, 3), (965, 290)]),
    ("tl", "p", [(935, 285, 3), (910, 305), (900, 330, 3), (870, 335), (890, 378, 2)]),
    ("tl", "p", [(900, 330, 3), (930, 325)]),
    ("ds", "m", [(820, 480, 3), (755, 460, 3), (800, 470, 3), (840, 480, 3), (820, 410, 3), (860, 430, 3),
                 (870, 460, 3), (820, 500, 3), (850, 520, 3), (880, 490, 3), (800, 510, 3), (760, 500, 3),
                 (935, 450, 3), (945, 480, 3), (930, 510, 2), (810, 395), (850, 385), (795, 385), (885, 550, 3),
                 (912, 580), (940, 570), (980, 440), (990, 420), (975, 520)]),
    ("ds", "m", [(700, 520, 3), (680, 520, 3), (720, 550, 3), (670, 550, 3), (640, 578, 3), (600, 563, 3),
                 (592, 545, 3), (760, 500, 3), (755, 460, 3), (713, 377, 2), (600, 605)]),
    ("ds", "p", [(230, 500), (258, 523, 2), (305, 530, 2), (345, 520), (385, 510)]),
    ("ds", "p", [(230, 520), (258, 523, 2)]),
    ("ds", "p", [(215, 935), (233, 915, 3), (258, 910, 2), (270, 890), (290, 910, 3), (300, 935, 3), (275, 940)]),
    ("ds", "p", [(233, 915, 3), (235, 885)]),
    ("ds", "p", [(290, 910, 3), (315, 918)]),
    ("ds", "p", [(140, 790), (160, 775, 3), (180, 790, 3), (205, 785), (205, 775)]),
    ("ds", "p", [(160, 775, 3), (185, 770)]),
    ("db", "m", [(340, 690, 3), (285, 617), (270, 645, 2), (280, 670, 3), (310, 680, 3), (375, 685, 3),
                 (405, 650, 3), (270, 700, 3), (305, 720, 3), (335, 720, 3), (380, 720, 3), (410, 720),
                 (285, 760, 3), (240, 690), (440, 710, 3)]),
    ("db", "p", [(405, 650, 3), (498, 612, 2)]),
    ("db", "p", [(285, 760, 3), (265, 770), (245, 760)]),
    ("db", "p", [(285, 760, 3), (335, 790, 2), (390, 800, 3), (470, 790, 2), (525, 778, 2), (565, 765, 3),
                 (655, 773, 3), (700, 765)]),
    ("db", "p", [(335, 790, 2), (355, 820)]),
    ("db", "p", [(440, 710, 3), (540, 700, 2), (630, 680, 2), (690, 635, 3), (735, 655, 3), (780, 650),
                 (840, 638, 3), (870, 620)]),
    ("db", "p", [(440, 710, 3), (600, 675), (690, 635, 3)]),
    ("db", "p", [(565, 765, 3), (560, 790)]),
    ("ye", "s", [(175, 525, 3), (137, 497), (160, 515), (185, 510), (180, 555, 2), (187, 580)]),
    ("ye", "s", [(1105, 743, 3), (1045, 745, 3), (1065, 735), (1080, 755), (1128, 735), (1140, 745),
                 (1135, 770, 2), (1125, 790), (1085, 775, 2), (1115, 810), (1135, 828), (990, 705)]),
    ("ye", "p", [(1045, 745, 3), (965, 735, 3), (940, 738)]),
    ("rd", "s", [(1075, 610, 3), (1050, 578), (1060, 595), (1095, 620), (1060, 628), (1050, 650), (1080, 625)]),
    ("mn", "p", [(560, 550), (590, 545, 3), (620, 550, 3), (650, 560), (665, 585), (695, 588, 2), (720, 635, 2),
                 (765, 640, 2), (795, 648, 2), (850, 658, 2), (875, 665), (895, 705, 3), (945, 730, 2),
                 (985, 740, 2), (1015, 770, 2), (1045, 790)]),
    ("mn", "p", [(695, 588, 2), (760, 620), (820, 685, 2), (870, 700), (895, 710), (920, 730)]),
    ("mn", "s", [(920, 815, 3), (908, 782), (905, 885, 2), (940, 838), (945, 860), (935, 880), (880, 905, 2),
                 (855, 930)]),
    ("mn", "p", [(920, 815, 3), (945, 730, 2)]),
    ("tl", "m", [(800, 760, 3), (745, 690, 3), (770, 710, 3), (830, 740, 3), (845, 705, 3), (775, 745, 3),
                 (760, 760, 3), (790, 780, 3), (815, 775, 3), (810, 800, 3), (785, 820, 3), (775, 840, 2),
                 (805, 850, 2), (830, 870), (855, 830), (850, 810), (880, 800), (905, 720), (910, 685),
                 (955, 675), (710, 755), (690, 760), (720, 690), (690, 665, 3)]),
    ("tl", "p", [(660, 597, 3), (665, 645, 3), (690, 665, 3), (745, 690, 3)]),
    ("tl", "p", [(535, 620, 3), (612, 717, 3), (568, 795, 3), (595, 790)]),
    ("tl", "p", [(612, 717, 3), (690, 665, 3)]),
    ("tl", "p", [(640, 790), (710, 755)]),
    ("tl", "p", [(760, 760, 3), (733, 900), (710, 960, 3), (700, 990), (655, 1020), (625, 1040), (605, 1050)]),
    ("tl", "p", [(710, 960, 3), (715, 1030)]),
    ("rd", "p", [(552, 815, 3), (597, 875, 3), (610, 922, 3), (645, 928, 3), (665, 898, 3), (712, 903, 3),
                 (745, 843, 3), (770, 852, 3), (778, 880)]),
    ("rd", "p", [(597, 875, 3), (665, 898, 3)]),
    ("rd", "p", [(725, 720, 3), (700, 822, 3), (712, 903, 3)]),
    ("rd", "p", [(725, 720, 3), (745, 843, 3)]),
    ("rd", "p", [(725, 720, 3), (690, 718)]),
    ("rd", "p", [(645, 928, 3), (640, 1000, 3), (645, 1040, 3), (680, 1075, 3), (690, 1090)]),
    ("rd", "p", [(645, 1040, 3), (665, 1038, 3), (700, 1070)]),
    ("rd", "p", [(640, 1000, 3), (600, 1000)]),
    ("rd", "p", [(712, 903, 3), (730, 1020, 3), (735, 1055)]),
    ("rd", "p", [(765, 895), (770, 930)]),
    ("lv", "m", [(462, 875, 3), (415, 853), (440, 860, 3), (480, 865, 3), (505, 855, 3), (450, 885, 3),
                 (420, 890), (400, 895), (505, 900), (430, 915, 2)]),
    ("lv", "p", [(350, 880), (380, 890, 2), (400, 895)]),
    ("lv", "p", [(505, 900), (540, 900, 3), (555, 930)]),
    ("lv", "p", [(540, 900, 3), (525, 930)]),
    ("lv", "p", [(540, 900, 3), (560, 900), (600, 890), (660, 850, 3), (710, 835), (720, 808, 2)]),
    ("lv", "p", [(430, 915, 2), (423, 940), (415, 965), (450, 960, 3), (465, 990, 3), (480, 1000),
                 (485, 1020, 2), (460, 1040)]),
    ("lv", "p", [(485, 1020, 2), (440, 1030)]),
    ("lv", "s", [(395, 1020, 3), (375, 1010, 3), (405, 1040), (345, 1000), (380, 1040), (325, 990), (430, 1020)]),
    ("gr", "p", [(718, 862, 2), (750, 880), (773, 900), (785, 942, 3), (788, 995, 3), (770, 1045, 3),
                 (750, 1095, 3), (750, 1140), (718, 1133, 2), (685, 1160, 2), (655, 1165, 2), (620, 1150, 2),
                 (603, 1135, 2), (583, 1145, 2), (580, 1170)]),
    ("gr", "p", [(785, 995, 3), (798, 1020)]),
    ("gr", "p", [(750, 1095, 3), (775, 1155)]),
    ("gr", "s", [(405, 1100, 3), (350, 1080), (380, 1090, 2), (430, 1090, 2), (435, 1110, 3), (455, 1128),
                 (420, 1115, 2), (395, 1120)]),
    ("pu", "p", [(830, 1012, 3), (865, 1005), (895, 1005, 2), (930, 1000, 2), (955, 995, 2), (985, 985, 3),
                 (1010, 980, 3), (1030, 970), (1045, 975, 2), (1035, 995, 2)]),
    ("pu", "s", [(840, 1060, 3), (830, 1012, 3), (815, 1070, 3), (825, 1090, 2), (860, 1050, 3), (885, 1060),
                 (905, 1085), (855, 1095, 2), (860, 1118), (880, 1120)]),
]

grey_f_ia = [
    [(330, 163), (350, 155)], [(395, 133), (412, 125)], [(450, 107), (470, 97)], [(780, 95), (800, 105)],
    [(920, 175), (935, 190), (962, 212)], [(1015, 270), (1030, 290)], [(1045, 320), (1060, 335)],
    [(1070, 370), (1085, 380)], [(1095, 420), (1110, 425)], [(1105, 460), (1120, 470)], [(1130, 520), (1140, 540)],
    [(1088, 820), (1093, 840)], [(1045, 855), (1055, 845)], [(1070, 885), (1060, 895)], [(1010, 915), (1030, 915)],
    [(1020, 955), (1035, 958)], [(968, 945), (973, 963)], [(925, 980), (935, 1000)], [(995, 990), (990, 1010)],
    [(955, 1015), (960, 1030)], [(880, 1030), (893, 1020)], [(830, 1090), (838, 1110)], [(795, 1120), (797, 1140)],
    [(760, 1125), (755, 1142)], [(705, 1155), (725, 1157)], [(672, 1140), (668, 1165)], [(640, 1135), (638, 1155)],
    [(580, 1150), (595, 1170), (608, 1150)], [(520, 1163), (545, 1162)], [(330, 1012), (350, 1075), (370, 1110)],
    [(575, 270), (582, 285)], [(605, 288), (603, 355)], [(715, 940), (720, 1005)],
]
f_ia = [
    ("ye", "p", [(188, 878), (205, 905, 2), (228, 945, 3), (230, 1003, 2), (250, 1048, 2), (275, 1080)]),
    ("ye", "p", [(205, 905, 2), (185, 930)]),
    ("lv", "m", [(220, 480, 3), (155, 362, 3), (140, 378), (175, 410, 3), (185, 435, 3), (215, 430, 3),
                 (245, 440, 3), (270, 420, 3), (295, 440, 3), (265, 470, 3), (230, 510, 3), (195, 500, 3),
                 (165, 470, 3), (140, 515), (100, 450), (120, 490), (90, 512), (255, 540, 3), (285, 550),
                 (300, 485), (325, 480), (195, 545, 3), (175, 575)]),
    ("lv", "m", [(280, 560, 3), (255, 540, 3), (300, 580, 3), (310, 620, 3), (275, 610, 3), (235, 590, 3),
                 (225, 520, 3), (340, 520), (360, 500), (300, 400), (400, 355), (290, 385, 3), (320, 415)]),
    ("lv", "p", [(105, 630), (140, 625, 2), (175, 655, 2), (210, 660)]),
    ("lv", "p", [(110, 660), (145, 660, 2), (190, 662)]),
    ("lv", "p", [(80, 740), (120, 718, 2), (150, 730, 2), (175, 705, 2), (200, 705)]),
    ("lv", "p", [(215, 705), (270, 710), (330, 690), (380, 680), (440, 690)]),
    ("lv", "p", [(120, 718, 2), (160, 720)]),
    ("db", "m", [(430, 490, 3), (382, 480, 3), (425, 510, 3), (455, 490, 3), (460, 520, 3), (455, 580, 3),
                 (430, 590, 3), (395, 465, 2), (255, 420, 2), (260, 455), (330, 535, 3), (440, 460, 2),
                 (490, 548), (485, 640), (420, 450, 2)]),
    ("db", "p", [(215, 365), (235, 365, 2), (270, 400, 2), (300, 435)]),
    ("tl", "s", [(320, 620, 3), (285, 575, 3), (350, 595, 3), (270, 640, 3), (220, 640, 3), (155, 618),
                 (200, 660), (380, 700, 3), (325, 550), (300, 520), (350, 520), (255, 690), (240, 710)]),
    ("tl", "p", [(280, 215), (268, 285, 3), (267, 325, 2), (270, 395), (290, 430), (280, 500)]),
    ("tl", "p", [(380, 700, 3), (425, 705, 2), (445, 745), (440, 760, 3), (465, 805, 3), (520, 830)]),
    ("tl", "p", [(440, 760, 3), (500, 790), (570, 760), (600, 750)]),
    ("tl", "p", [(440, 760, 3), (405, 630), (440, 320, 2), (475, 240), (520, 200, 3), (560, 178, 3),
                 (590, 175, 3), (620, 150, 3), (615, 105, 2), (640, 100)]),
    ("tl", "p", [(620, 150, 3), (670, 140, 2), (690, 175), (715, 180, 2), (740, 230, 2), (785, 262, 3),
                 (820, 195, 2), (840, 160)]),
    ("tl", "p", [(560, 178, 3), (585, 210), (565, 225)]),
    ("tl", "p", [(740, 230, 2), (745, 300, 3), (760, 330)]),
    ("tl", "p", [(600, 760), (640, 740), (690, 720)]),
    ("gr", "p", [(320, 290), (355, 350, 3), (375, 385), (400, 445), (470, 445, 3), (520, 437, 3), (575, 375, 3),
                 (590, 330, 2), (575, 295, 2), (553, 250, 3), (530, 268, 2), (555, 225, 3), (545, 300, 2),
                 (600, 255, 2)]),
    ("gr", "p", [(530, 180), (555, 225, 3)]),
    ("gr", "p", [(730, 300), (700, 270), (680, 290), (580, 258)]),
    ("gr", "p", [(620, 765), (710, 860, 2), (710, 960, 3), (620, 998, 2)]),
    ("gr", "p", [(760, 912), (710, 960, 3), (745, 1000)]),
    ("sa", "p", [(340, 240), (360, 290, 3), (465, 245, 3), (590, 245, 3), (655, 190, 3), (745, 200, 3),
                 (790, 170, 3), (775, 130)]),
    ("sa", "p", [(790, 170, 3), (820, 195), (875, 240, 3), (845, 298, 3), (870, 310), (890, 200)]),
    ("sa", "p", [(845, 298, 3), (800, 385, 3), (830, 420), (825, 510, 3), (800, 560)]),
    ("sa", "p", [(825, 510, 3), (860, 530, 2), (900, 580, 2), (965, 600, 2), (1010, 670, 3), (1045, 730, 2),
                 (1055, 775)]),
    ("sa", "p", [(860, 530, 2), (870, 470), (920, 440), (960, 420)]),
    ("sa", "p", [(825, 510, 3), (845, 600, 2), (890, 640, 2), (940, 700, 2), (985, 720)]),
    ("sa", "p", [(800, 385, 3), (770, 310), (700, 300)]),
    ("sa", "p", [(875, 240, 3), (910, 290)]),
    ("mn", "p", [(320, 440), (290, 490, 2), (270, 440), (295, 420, 2), (350, 430, 3), (405, 420, 3), (440, 410)]),
    ("mn", "p", [(400, 625, 3), (565, 650, 3), (640, 630), (700, 630, 3), (720, 660)]),
    ("mn", "p", [(840, 550), (900, 570, 2), (960, 600, 2), (975, 580)]),
    ("mn", "p", [(910, 400, 3), (900, 475, 3), (930, 570, 3), (910, 610)]),
    ("mn", "p", [(800, 530), (810, 565), (850, 600, 3), (880, 610)]),
    ("sk", "p", [(500, 485, 3), (525, 505), (550, 540), (555, 570), (545, 635, 3), (535, 700), (580, 755),
                 (600, 805), (600, 900), (605, 1020, 3), (610, 1000)]),
    ("sk", "p", [(555, 570), (600, 660), (640, 690)]),
    ("sk", "p", [(540, 700), (580, 770), (575, 855), (573, 940, 3), (600, 1018, 3)]),
    ("sk", "p", [(600, 800, 2), (690, 850, 2), (740, 800), (750, 775, 3)]),
    ("sk", "p", [(640, 690), (690, 800), (750, 810)]),
    ("sk", "p", [(835, 860, 3), (835, 900), (855, 925, 3), (825, 945, 3), (800, 930, 3), (785, 930), (765, 965),
                 (790, 1012, 3), (800, 1020), (770, 1040), (755, 1060), (730, 1090), (710, 1110)]),
    ("sk", "p", [(835, 900), (800, 930, 3)]),
    ("sk", "p", [(825, 945, 3), (790, 1012, 3)]),
    ("sk", "p", [(405, 230), (430, 305), (460, 370), (500, 485, 3)]),
    ("sk", "p", [(370, 520), (430, 545)]),
    ("sk", "p", [(580, 815), (620, 890)]),
    ("tn", "m", [(520, 830, 3), (485, 765, 3), (515, 765, 3), (530, 770, 3), (490, 800, 3), (545, 800, 3),
                 (440, 820, 3), (435, 850), (470, 875, 3), (500, 895, 3), (545, 890, 3), (510, 920), (525, 960, 3),
                 (470, 930), (490, 950), (560, 885), (380, 775, 3)]),
    ("tn", "s", [(610, 790, 3), (630, 770, 3), (625, 750), (565, 800), (580, 830), (610, 840)]),
    ("tn", "p", [(500, 990), (470, 1040, 3), (468, 1100, 2), (478, 1140)]),
    ("tn", "p", [(240, 870), (210, 900), (185, 930)]),
    ("br", "s", [(535, 720, 3), (522, 665), (480, 735, 3), (565, 695), (563, 745), (510, 850, 3), (508, 868)]),
    ("br", "p", [(480, 735, 3), (455, 760)]),
    ("br", "p", [(630, 750, 3), (565, 860), (545, 940, 3), (520, 1020), (500, 1045)]),
    ("br", "p", [(630, 750, 3), (700, 820, 2), (750, 885)]),
    ("br", "p", [(680, 830), (650, 880, 3), (615, 945), (580, 945)]),
    ("rd", "m", [(330, 810, 3), (215, 755, 3), (235, 790, 3), (260, 770, 3), (290, 740, 3), (315, 695, 3),
                 (345, 700, 3), (375, 720, 3), (400, 778, 3), (380, 840, 3), (355, 860, 3), (330, 880, 3),
                 (300, 860, 3), (265, 840, 3), (240, 850, 3), (210, 800, 3), (175, 800, 2), (160, 805),
                 (195, 765, 3), (240, 700), (290, 690, 3), (395, 700), (415, 760, 3), (430, 800, 3), (420, 860, 3),
                 (235, 880, 3), (280, 900, 3), (305, 930, 3), (355, 920, 3), (390, 905, 3), (270, 1000, 2),
                 (285, 1045), (225, 915, 3), (245, 960, 2)]),
    ("rd", "m", [(400, 900, 3), (400, 860, 3), (420, 880, 3), (430, 930, 3), (455, 950, 3), (430, 985, 3),
                 (405, 995, 3), (450, 1010, 3), (475, 985, 3), (505, 990, 3), (480, 965, 3), (440, 955, 3),
                 (460, 1000, 3), (420, 1015, 3), (380, 960, 3), (370, 985, 3), (395, 1010, 3)]),
    ("rd", "p", [(330, 810, 3), (400, 900, 3)]),
    ("ds", "m", [(650, 470, 3), (560, 390, 3), (580, 430, 3), (610, 410, 3), (640, 380, 3), (670, 390, 3),
                 (700, 400, 3), (720, 430, 3), (740, 460, 3), (710, 480, 3), (680, 500, 3), (650, 530, 3),
                 (620, 520, 3), (590, 500, 3), (560, 520, 3), (540, 550, 3), (520, 580, 3), (580, 560, 3),
                 (620, 560, 3), (660, 580, 3), (700, 560, 3), (735, 520, 3), (760, 490, 3), (610, 460, 3),
                 (630, 440, 3), (670, 440, 3), (690, 460, 3), (650, 420, 3), (600, 480, 3), (510, 345, 2),
                 (525, 390), (580, 340), (695, 330), (720, 360), (680, 360), (780, 390), (800, 405), (835, 410),
                 (880, 430), (915, 460, 2), (950, 465, 2), (500, 580), (510, 600)]),
    ("ds", "m", [(700, 650, 3), (650, 680, 3), (620, 720, 3), (685, 720, 3), (720, 700, 3), (755, 680, 3),
                 (760, 740, 3), (735, 760), (700, 760), (660, 760), (650, 800, 3), (680, 820, 3), (700, 845),
                 (720, 640), (760, 620), (800, 600), (810, 560)]),
    ("ds", "p", [(650, 470, 3), (700, 650, 3)]),
    ("ds", "p", [(760, 740, 3), (800, 790), (830, 830, 3), (855, 800)]),
    ("ds", "p", [(680, 820, 3), (685, 890), (680, 910)]),
    ("ds", "p", [(700, 200), (695, 240), (695, 330)]),
    ("ds", "p", [(560, 390, 3), (510, 345, 2), (470, 270)]),
    ("ro", "m", [(760, 580, 3), (640, 600, 3), (650, 580, 3), (680, 560, 3), (700, 545, 3), (720, 520, 3),
                 (750, 500, 3), (780, 520, 3), (800, 560, 3), (820, 580, 3), (840, 610, 3), (855, 640, 3),
                 (830, 660, 3), (800, 680, 3), (770, 660, 3), (740, 640, 3), (710, 620, 3), (690, 600, 3),
                 (780, 610, 3), (720, 600, 3), (760, 540, 3), (790, 640, 3), (740, 460, 3), (690, 430, 3),
                 (620, 520, 3), (660, 460, 3), (890, 570), (905, 600, 2), (935, 620), (960, 600), (1015, 610),
                 (1020, 595)]),
    ("ro", "p", [(630, 355, 3), (680, 345, 3), (700, 320), (730, 320, 3), (700, 290), (680, 265)]),
    ("ro", "s", [(800, 700, 3), (830, 770, 2), (860, 800, 2), (880, 820, 3), (900, 850, 2), (920, 880, 3),
                 (945, 860, 2), (965, 850, 3), (940, 800), (970, 780), (920, 740), (940, 700), (890, 660),
                 (870, 750, 3)]),
    ("ro", "p", [(820, 700), (890, 780), (935, 840)]),
    ("ro", "p", [(830, 770, 2), (855, 820), (880, 850)]),
    ("ro", "p", [(620, 320), (640, 290), (700, 305)]),
    ("bb", "p", [(760, 395), (800, 405, 2), (860, 415, 3), (905, 400, 2), (955, 405, 2), (985, 430, 2),
                 (1015, 440, 2), (1020, 495, 3), (1065, 495, 2), (1095, 510, 2), (1115, 545, 2), (1130, 575)]),
    ("bb", "p", [(1020, 495, 3), (965, 548, 3)]),
    ("pu", "p", [(1040, 548, 3), (1060, 555), (1080, 575, 3), (1075, 595), (1080, 610, 3), (1090, 630),
                 (1088, 665, 3), (1095, 690), (1095, 720, 3), (1100, 755)]),
    ("pu", "p", [(1040, 548, 3), (1080, 570)]),
    ("pu", "p", [(1095, 720, 3), (1088, 755)]),
    ("tn", "p", [(1135, 640), (1135, 672, 3), (1150, 665)]),
    ("tn", "p", [(1135, 672, 3), (1130, 707, 2), (1132, 737)]),
    ("lv", "p", [(860, 1090), (875, 1075, 3), (895, 1080, 3), (915, 1065, 3), (920, 1050)]),
]

grey_f_ian = [
    [(530, 102), (555, 100)], [(895, 175), (913, 185)], [(1010, 265), (1022, 282)], [(1057, 320), (1068, 340)],
    [(1095, 385), (1102, 402)], [(1118, 445), (1128, 462)], [(1138, 500), (1145, 518)], [(1150, 560), (1152, 580)],
    [(1155, 620), (1152, 655)], [(1150, 690), (1145, 745)], [(1130, 800), (1120, 830)], [(1095, 875), (1085, 900)],
    [(1050, 950), (1045, 970)], [(1000, 1010), (1005, 1020)], [(950, 1050), (960, 1045)], [(915, 1080), (900, 1095)],
    [(740, 1140), (768, 1130)], [(685, 1160), (705, 1155)], [(612, 1160), (640, 1155)], [(580, 1160), (590, 1145)],
    [(525, 1130), (548, 1135)], [(497, 1130), (495, 1150)], [(450, 1110), (460, 1135)], [(415, 1110), (412, 1125)],
    [(383, 1080), (385, 1095)], [(345, 1065), (350, 1085)], [(295, 1050), (318, 1055)], [(248, 1012), (265, 1025)],
    [(240, 985), (265, 985)], [(150, 865), (170, 865)], [(125, 818), (140, 830)], [(120, 775), (130, 770)],
    [(100, 690), (110, 730)], [(88, 657), (108, 657)], [(98, 585), (108, 620)], [(100, 520), (100, 540)],
    [(125, 480), (150, 508), (185, 545)], [(140, 540), (185, 545)], [(140, 400), (148, 385)],
    [(195, 320), (210, 290)], [(650, 1000), (660, 1040)], [(975, 425), (1020, 388)], [(1080, 870), (1095, 890)],
]
f_ian = [
    ("sk", "s", [(420, 560, 3), (380, 390, 3), (335, 430, 3), (300, 460, 3), (270, 430), (260, 480), (375, 490, 3),
                 (320, 580, 3), (290, 590), (245, 580), (350, 640, 3), (300, 650), (250, 700), (265, 740, 3),
                 (235, 720), (210, 770), (385, 740, 3), (350, 780), (430, 800, 3), (470, 780), (520, 830),
                 (540, 890), (500, 960, 3), (480, 1000), (470, 1000), (560, 1000)]),
    ("sk", "s", [(580, 830, 3), (585, 895, 2), (590, 980, 3), (585, 1040, 3), (580, 1090), (570, 1050), (640, 830),
                 (600, 790), (560, 900), (550, 930)]),
    ("sk", "p", [(380, 390, 3), (410, 400, 2), (440, 410, 2), (470, 410)]),
    ("sk", "p", [(335, 430, 3), (310, 400), (270, 390)]),
    ("sk", "p", [(300, 460, 3), (230, 445), (210, 415)]),
    ("sk", "p", [(380, 390, 3), (420, 345), (440, 405)]),
    ("tl", "m", [(490, 680, 3), (400, 600, 3), (430, 640, 3), (460, 600, 3), (480, 570, 3), (520, 600, 3),
                 (550, 640, 3), (580, 660, 3), (600, 700, 3), (580, 720, 3), (560, 760, 3), (520, 770, 3),
                 (480, 750, 3), (440, 740, 3), (420, 700, 3), (450, 680, 3), (520, 680, 3), (540, 710, 3),
                 (470, 720, 3), (390, 690, 3), (360, 660, 3), (330, 600, 3), (300, 520, 3), (300, 560, 3),
                 (340, 540, 3), (380, 515, 3), (420, 540, 3), (380, 760, 3), (400, 800, 3), (440, 790, 3),
                 (500, 800, 3), (540, 790, 3), (600, 760, 3), (620, 680, 3), (640, 720, 3), (660, 700, 3),
                 (680, 750, 3), (700, 710, 3)]),
    ("tl", "s", [(330, 560, 3), (220, 505), (235, 540), (265, 560), (260, 610), (295, 485), (270, 480), (280, 620),
                 (245, 640), (265, 690)]),
    ("tl", "s", [(590, 800, 3), (600, 840, 3), (620, 880), (640, 910, 3), (660, 940), (630, 860), (570, 860),
                 (545, 835), (680, 880, 3), (700, 830, 3), (740, 800, 3), (760, 770, 3), (740, 840, 3), (780, 840),
                 (820, 820)]),
    ("tl", "p", [(700, 760), (800, 780, 3), (870, 800, 3), (920, 820, 3), (960, 795, 3)]),
    ("tl", "p", [(700, 760), (780, 810), (860, 840, 3), (920, 845, 3), (980, 910, 2), (1010, 940, 2)]),
    ("tl", "p", [(700, 760), (850, 760), (880, 740), (960, 700)]),
    ("tl", "p", [(870, 800, 3), (900, 870), (930, 840)]),
    ("tl", "p", [(440, 790, 3), (435, 930, 2), (430, 1010, 3), (435, 1055)]),
    ("tl", "p", [(400, 800, 3), (300, 830, 3), (250, 865)]),
    ("tl", "p", [(450, 680, 3), (340, 600), (210, 580)]),
    ("tl", "p", [(380, 760, 3), (270, 735), (250, 745)]),
    ("tl", "p", [(400, 690), (305, 690), (240, 690)]),
    ("tl", "p", [(260, 440), (300, 480)]),
    ("tl", "p", [(960, 795, 3), (1000, 820), (1010, 850)]),
    ("tl", "p", [(655, 800), (650, 870), (665, 930)]),
    ("mn", "s", [(440, 300, 3), (345, 215), (365, 200, 3), (400, 230, 3), (420, 240), (435, 225), (370, 265, 3),
                 (420, 285, 3), (445, 250), (460, 300), (480, 300)]),
    ("mn", "p", [(440, 300, 3), (520, 360), (560, 410)]),
    ("mn", "p", [(600, 385, 3), (615, 350), (640, 300, 3), (655, 240, 3), (660, 200), (680, 180), (700, 205),
                 (715, 145), (735, 145), (750, 120)]),
    ("mn", "p", [(600, 385, 3), (640, 390, 3), (680, 380), (720, 360, 3), (760, 340), (800, 320), (840, 290, 3),
                 (870, 240, 3), (900, 250), (880, 300)]),
    ("mn", "p", [(720, 360, 3), (740, 400), (780, 390), (790, 350)]),
    ("mn", "p", [(700, 250), (760, 230, 3), (790, 200)]),
    ("mn", "p", [(640, 300, 3), (600, 245), (570, 210)]),
    ("mn", "p", [(840, 290, 3), (860, 320), (900, 345), (875, 390), (940, 440), (970, 430), (975, 470)]),
    ("mn", "p", [(900, 470), (960, 510), (970, 560, 2), (1000, 560), (1040, 548)]),
    ("mn", "p", [(620, 410), (580, 390, 3), (530, 370), (540, 340)]),
    ("mn", "p", [(640, 470), (660, 500, 3)]),
    ("tn", "p", [(445, 155), (455, 148, 3), (480, 170, 3), (520, 185), (545, 210, 3), (575, 230, 3), (600, 250),
                 (615, 295, 3), (620, 310), (650, 310)]),
    ("tn", "p", [(455, 148, 3), (485, 120), (530, 150), (560, 175)]),
    ("tn", "p", [(605, 180), (610, 210), (615, 295, 3)]),
    ("tn", "p", [(615, 295, 3), (700, 280), (720, 250)]),
    ("tn", "p", [(615, 295, 3), (775, 295), (810, 280)]),
    ("tn", "p", [(840, 325), (860, 330, 3), (880, 310)]),
    ("tn", "p", [(650, 250, 3), (665, 185), (660, 325, 3)]),
    ("gr", "p", [(575, 110), (600, 100, 2), (640, 100)]),
    ("gr", "p", [(600, 100, 2), (585, 120, 3), (570, 170, 2), (555, 240, 2), (570, 340, 2)]),
    ("gr", "p", [(305, 255), (345, 300, 2), (385, 310, 3), (420, 340, 3), (440, 360, 3), (470, 410, 3),
                 (490, 440, 3)]),
    ("gr", "p", [(330, 295), (380, 320, 3), (390, 345, 3), (420, 360, 3)]),
    ("gr", "p", [(385, 310, 3), (410, 330, 3), (430, 355, 3)]),
    ("gr", "p", [(380, 410), (450, 420), (490, 435, 3)]),
    ("ds", "p", [(480, 250), (500, 320, 3), (600, 330, 3), (625, 165)]),
    ("ds", "p", [(500, 320, 3), (710, 355, 2), (830, 370, 3), (840, 225, 2), (835, 170)]),
    ("ds", "p", [(830, 370, 3), (870, 410, 2), (925, 425, 2)]),
    ("ds", "p", [(600, 330, 3), (595, 250)]),
    ("ds", "p", [(740, 540), (760, 610, 3), (700, 640)]),
    ("ds", "p", [(510, 800), (500, 840), (490, 890, 3), (500, 900)]),
    ("ds", "p", [(490, 880), (530, 830)]),
    ("ds", "p", [(160, 895), (180, 910, 3), (195, 920), (205, 945, 3), (225, 945)]),
    ("ds", "p", [(210, 965), (205, 945, 3)]),
    ("db", "p", [(810, 1125), (830, 1110, 3), (855, 1095, 3), (875, 1075, 3), (895, 1060, 3), (915, 1045, 3),
                 (940, 1015, 3), (955, 975, 3), (955, 910, 3), (980, 870)]),
    ("br", "p", [(1020, 415), (1010, 430), (960, 445, 3), (990, 575, 3)]),
    ("br", "p", [(990, 575, 3), (965, 660), (945, 645, 3), (1000, 655), (1020, 660)]),
    ("br", "p", [(945, 645, 3), (1000, 640)]),
    ("br", "p", [(990, 575, 3), (970, 710, 3), (1050, 720, 3), (1100, 720)]),
    ("br", "p", [(970, 710, 3), (930, 770), (870, 840, 3), (830, 900), (780, 895, 3), (720, 905, 3), (700, 890),
                 (690, 870)]),
    ("br", "p", [(720, 905, 3), (710, 955, 3), (660, 975, 3), (610, 968, 3)]),
    ("br", "p", [(710, 955, 3), (680, 1030, 3), (675, 1060), (680, 1080)]),
    ("br", "p", [(710, 955, 3), (755, 995, 3), (770, 1045)]),
    ("br", "p", [(720, 905, 3), (535, 905, 3)]),
    ("lv", "p", [(730, 745), (760, 760, 3), (790, 740, 3), (800, 760), (835, 800), (860, 815, 3), (870, 845, 3),
                 (880, 875, 3)]),
    ("lv", "p", [(790, 740, 3), (775, 780, 3), (780, 820), (750, 820, 3)]),
    ("lv", "p", [(870, 845, 3), (900, 880), (910, 930, 3), (920, 970)]),
    ("rd", "p", [(300, 355, 3), (265, 370, 3), (250, 375), (265, 440, 3), (290, 455), (350, 480), (355, 505, 3),
                 (400, 520)]),
    ("rd", "p", [(210, 415), (265, 440, 3)]),
    ("rd", "p", [(435, 590, 3), (400, 640, 3), (330, 680), (300, 700, 3), (250, 710), (215, 720, 3), (170, 735)]),
    ("rd", "p", [(400, 640, 3), (370, 720, 3), (385, 760), (420, 790), (435, 820, 3), (450, 870, 3),
                 (420, 910, 2)]),
    ("rd", "p", [(435, 820, 3), (360, 820, 3), (365, 890, 3), (380, 915, 3), (400, 930), (390, 945, 2),
                 (360, 995)]),
    ("rd", "p", [(435, 820, 3), (395, 860), (380, 870), (405, 880)]),
    ("rd", "p", [(440, 840), (415, 940)]),
    ("rd", "p", [(510, 760), (555, 840, 3)]),
    ("pu", "p", [(765, 475), (800, 460, 3), (840, 440), (860, 465, 3), (880, 430), (920, 380, 3), (945, 345),
                 (960, 325)]),
    ("pu", "p", [(920, 380, 3), (975, 340)]),
    ("bb", "p", [(690, 490, 3), (700, 470, 3), (720, 445), (770, 445, 3), (810, 410), (860, 365, 3), (920, 320)]),
    ("bb", "p", [(690, 490, 3), (685, 520, 3)]),
    ("ro", "m", [(770, 640, 3), (700, 520, 3), (740, 500, 3), (745, 540, 3), (790, 540, 3), (830, 550, 3),
                 (850, 520, 3), (880, 540, 3), (870, 595, 3), (845, 600, 3), (810, 600, 3), (780, 600, 3),
                 (750, 610, 3), (725, 640, 3), (700, 680, 3), (740, 690, 3), (780, 680, 3), (820, 670, 3),
                 (850, 650, 3), (870, 700, 3), (840, 720, 3), (800, 720, 3), (760, 720, 3), (720, 730, 3),
                 (700, 700, 3), (920, 600, 2), (925, 715, 2), (960, 600, 2), (1010, 600, 2), (1075, 605),
                 (1078, 585), (1075, 497), (1060, 510), (1030, 520), (1000, 535), (1005, 680), (1040, 735),
                 (1005, 720), (980, 715), (960, 740), (935, 660), (970, 630), (1010, 655), (680, 420), (720, 415),
                 (760, 400), (800, 385), (700, 460), (830, 365), (805, 330)]),
    ("ro", "p", [(810, 720, 3), (850, 830), (845, 880), (845, 935, 3), (845, 1010), (830, 1055, 3), (815, 1085)]),
    ("ro", "p", [(790, 725), (820, 835), (850, 875)]),
    ("ro", "p", [(870, 700, 3), (930, 760), (985, 780)]),
    ("ro", "p", [(870, 700, 3), (1000, 755)]),
    ("ro", "p", [(760, 720, 3), (780, 805), (805, 860)]),
    ("sa", "m", [(610, 540, 3), (540, 480, 3), (560, 450, 3), (600, 435, 3), (640, 440, 3), (680, 460, 3),
                 (700, 490, 3), (710, 530, 3), (700, 570, 3), (680, 600, 3), (650, 620, 3), (610, 630, 3),
                 (575, 615, 3), (545, 590, 3), (530, 550, 3), (520, 510, 3), (565, 500, 3), (600, 490, 3),
                 (640, 495, 3), (660, 530, 3), (640, 570, 3), (600, 580, 3), (570, 550, 3), (610, 520, 3),
                 (630, 540, 3), (585, 530, 3), (495, 500, 3), (510, 470, 3), (560, 430), (590, 420), (620, 405),
                 (650, 420), (540, 420), (500, 440), (480, 460), (470, 510), (500, 570), (720, 480), (720, 600)]),
]

panels = [
    (170, 20, b_oa, grey_b_oa), (600, 20, b_nut, grey_b_nut),
    (1050, 20, b_ia, grey_b_ia), (1490, 20, b_ian, grey_b_ian),
    (170, 460, f_oa, grey_f_oa), (600, 460, f_nut, grey_f_nut),
    (1050, 460, f_ia, grey_f_ia), (1490, 460, f_ian, grey_f_ian),
]
title_x = [371, 814, 1256, 1698]
title_y = [14, 456]


def collect(groups, greys):
    segs, seg_colors = [], []
    nodes = {}

    def add_node(key, size):
        nodes[key] = max(size, nodes.get(key, 0))

    for chain in greys:
        for a, b in zip(chain[:-1], chain[1:]):
            segs.append([a[:2], b[:2]])
            seg_colors.append(palette["gy"])
        for i, p in enumerate(chain):
            add_node(("gy", p[0], p[1]), 1 if i in (0, len(chain) - 1) else 2)

    for col, mode, pts in groups:
        size = [p[2] if len(p) > 2 else 1 for p in pts]
        if mode in ("s", "m"):
            size[0] = pts[0][2] if len(pts[0]) > 2 else 3
            for leaf in pts[1:]:
                segs.append([pts[0][:2], leaf[:2]])
                seg_colors.append(palette[col])
            if mode == "m":
                big = [p for p, s in zip(pts, size) if s == 3]
                for i in range(len(big)):
                    for j in range(i + 1, len(big)):
                        dx = big[i][0] - big[j][0]
                        dy = big[i][1] - big[j][1]
                        if dx * dx + dy * dy <= MESH_REACH ** 2:
                            segs.append([big[i][:2], big[j][:2]])
                            seg_colors.append(palette[col])
        else:
            for a, b in zip(pts[:-1], pts[1:]):
                segs.append([a[:2], b[:2]])
                seg_colors.append(palette[col])
        for p, s in zip(pts, size):
            add_node((col, p[0], p[1]), s)
    return segs, seg_colors, nodes


fig = plt.figure(figsize=(W / 100, H / 100), dpi=100)

for x0, y0, groups, greys in panels:
    ax = fig.add_axes([x0 / W, 1 - (y0 + 410) / H, 410 / W, 410 / H])
    ax.set_xlim(0, 1230)
    ax.set_ylim(1230, 0)
    ax.axis("off")
    segs, seg_colors, nodes = collect(groups, greys)
    ax.add_collection(LineCollection(segs, colors=seg_colors, linewidths=0.9, zorder=1))
    keys = list(nodes.keys())
    ax.scatter([k[1] for k in keys], [k[2] for k in keys],
               s=[node_area[nodes[k]] for k in keys],
               c=[palette[k[0]] for k in keys], linewidths=0, zorder=2)

for i, t in enumerate(titles):
    fig.text(title_x[i % 4] / W, 1 - title_y[i // 4] / H, t, ha="center", va="center", fontsize=10)

fig.text(15 / W, 1 - 247 / H, row_labels[0], ha="left", va="baseline", fontsize=26)
fig.text(15 / W, 1 - 682 / H, row_labels[1], ha="left", va="baseline", fontsize=26)

fig.add_artist(Line2D([6 / W, 1896 / W], [1 - 886 / H, 1 - 886 / H], color="black", linewidth=2))

fig.text(13 / W, 1 - 962 / H, "Treatments", ha="left", va="baseline", fontsize=26)
for xc, name in zip([375, 821, 1267, 1722], treatments):
    fig.text(xc / W, 1 - 962 / H, name, ha="center", va="baseline", fontsize=26)

fig.savefig("out.png", dpi=100)
